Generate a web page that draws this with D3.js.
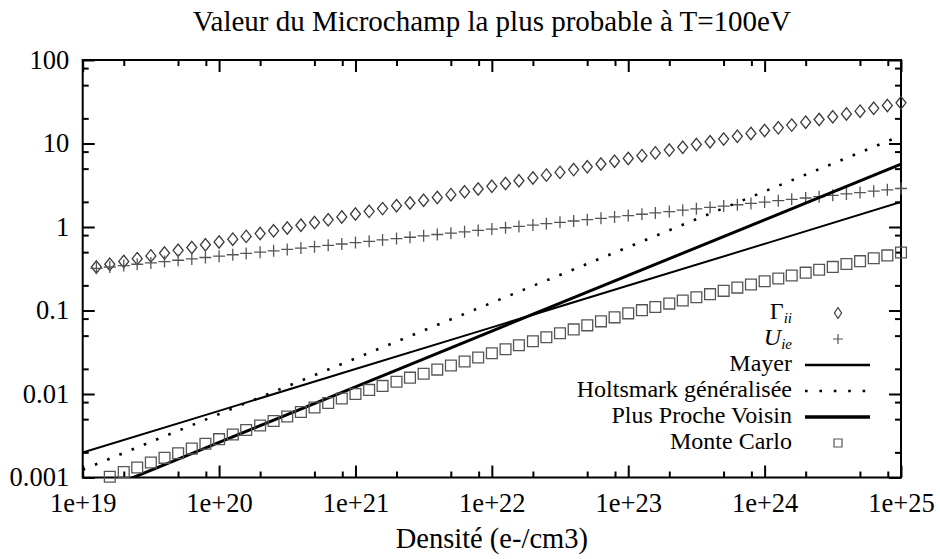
<!DOCTYPE html>
<html>
<head>
<meta charset="utf-8">
<script src="https://cdn.jsdelivr.net/npm/d3@7"></script>
<style>
  body { margin: 0; background: #fff; }
  svg text { font-family: 'Liberation Serif', serif; fill: #000; }
</style>
</head>
<body>
<div id="graph"></div>
<script>
// densités (e-/cm3) des points marqués
const densites = [
  1.26e19, 1.58e19, 2.00e19, 2.51e19, 3.16e19, 3.98e19, 5.01e19, 6.31e19, 7.94e19,
  1e20, 1.26e20, 1.58e20, 2.00e20, 2.51e20, 3.16e20, 3.98e20, 5.01e20, 6.31e20, 7.94e20,
  1e21, 1.26e21, 1.58e21, 2.00e21, 2.51e21, 3.16e21, 3.98e21, 5.01e21, 6.31e21, 7.94e21,
  1e22, 1.26e22, 1.58e22, 2.00e22, 2.51e22, 3.16e22, 3.98e22, 5.01e22, 6.31e22, 7.94e22,
  1e23, 1.26e23, 1.58e23, 2.00e23, 2.51e23, 3.16e23, 3.98e23, 5.01e23, 6.31e23, 7.94e23,
  1e24, 1.26e24, 1.58e24, 2.00e24, 2.51e24, 3.16e24, 3.98e24, 5.01e24, 6.31e24, 7.94e24,
  1e25
]
const gammaII = [
  0.332, 0.358, 0.387, 0.418, 0.451, 0.487, 0.526, 0.568, 0.613,
  0.662, 0.715, 0.772, 0.834, 0.900, 0.972, 1.05, 1.13, 1.22, 1.32,
  1.43, 1.54, 1.66, 1.80, 1.94, 2.09, 2.26, 2.44, 2.64, 2.85,
  3.07, 3.32, 3.58, 3.87, 4.18, 4.51, 4.87, 5.26, 5.68, 6.13,
  6.62, 7.15, 7.72, 8.34, 9.00, 9.72, 10.5, 11.3, 12.2, 13.2,
  14.3, 15.4, 16.6, 18.0, 19.4, 20.9, 22.6, 24.4, 26.4, 28.5,
  30.7
]
const uIE = [
  0.320, 0.332, 0.345, 0.358, 0.371, 0.385, 0.400, 0.415, 0.431,
  0.447, 0.465, 0.482, 0.500, 0.519, 0.539, 0.560, 0.581, 0.603, 0.626,
  0.650, 0.674, 0.700, 0.727, 0.754, 0.783, 0.813, 0.844, 0.876, 0.909,
  0.944, 0.979, 1.017, 1.055, 1.095, 1.137, 1.180, 1.225, 1.272, 1.320,
  1.370, 1.422, 1.476, 1.532, 1.591, 1.651, 1.714, 1.779, 1.847, 1.917,
  1.990, 2.065, 2.144, 2.225, 2.310, 2.398, 2.489, 2.584, 2.682, 2.784,
  2.890
]
const densitesMC = densites.slice(1)
const monteCarlo = [
  0.00102, 0.00116, 0.00132, 0.00151, 0.00172, 0.00195, 0.00222, 0.00254,
  0.00288, 0.00327, 0.00370, 0.00419, 0.00474, 0.00537, 0.00608, 0.00689, 0.00780, 0.00883,
  0.0100, 0.0112, 0.0125, 0.0140, 0.0157, 0.0175, 0.0196, 0.0219, 0.0245, 0.0274,
  0.0307, 0.0343, 0.0383, 0.0428, 0.0478, 0.0533, 0.0594, 0.0664, 0.0741, 0.0828,
  0.0925, 0.101, 0.110, 0.121, 0.132, 0.144, 0.157, 0.172, 0.188, 0.205,
  0.224, 0.242, 0.262, 0.284, 0.308, 0.333, 0.361, 0.390, 0.423, 0.457,
  0.495
]

// courbes continues
const densitesCourbes = [1e19, 1e20, 1e21, 1e22, 1e23, 1e24, 1e25]
const mayer = [0.00199, 0.00628, 0.0199, 0.0628, 0.199, 0.628, 1.99]
const holtsmark = [0.00124, 0.00575, 0.0267, 0.124, 0.575, 2.67, 12.4]
const plusProcheVoisin = [0.000566, 0.00263, 0.0122, 0.0567, 0.263, 1.22, 5.66]

const xTicks = [1e19, 1e20, 1e21, 1e22, 1e23, 1e24, 1e25]
const xTickLabels = ['1e+19', '1e+20', '1e+21', '1e+22', '1e+23', '1e+24', '1e+25']
const yTicks = [0.001, 0.01, 0.1, 1, 10, 100]
const yTickLabels = ['0.001', '0.01', '0.1', '1', '10', '100']
const minorSteps = [2, 5, 8]

const width = 940
const height = 559
const plot = { left: 82.7, right: 901, top: 60, bottom: 477.5 }
const tickFont = 26.5

const svg = d3.select('#graph').append('svg')
  .attr('width', width)
  .attr('height', height)

const xScale = d3.scaleLog().domain([1e19, 1e25]).range([plot.left, plot.right])
const yScale = d3.scaleLog().domain([0.001, 100]).range([plot.bottom, plot.top])

const minorOf = (ticks) => ticks.slice(0, -1).flatMap((t) => minorSteps.map((m) => t * m))

svg.append('defs').append('clipPath').attr('id', 'clip')
  .append('rect')
  .attr('x', plot.left).attr('y', plot.top)
  .attr('width', plot.right - plot.left).attr('height', plot.bottom - plot.top)

const styleAxis = (g) => {
  g.select('.domain').remove()
  g.attr('font-family', null).attr('font-size', tickFont)
  g.selectAll('.tick line').attr('stroke', '#000').attr('stroke-width', 2)
  g.selectAll('.tick text').attr('fill', '#000')
}

// axes : graduations vers l'intérieur sur les quatre côtés
svg.append('g').attr('transform', `translate(0,${plot.bottom})`)
  .call(d3.axisBottom(xScale).tickValues(xTicks).tickSize(-12).tickPadding(16)
    .tickFormat((d, i) => xTickLabels[i]))
  .call(styleAxis)
svg.append('g').attr('transform', `translate(0,${plot.bottom})`)
  .call(d3.axisBottom(xScale).tickValues(minorOf(xTicks)).tickSize(-6).tickFormat(''))
  .call(styleAxis)
svg.append('g').attr('transform', `translate(0,${plot.top})`)
  .call(d3.axisTop(xScale).tickValues(xTicks).tickSize(-12).tickFormat(''))
  .call(styleAxis)
svg.append('g').attr('transform', `translate(0,${plot.top})`)
  .call(d3.axisTop(xScale).tickValues(minorOf(xTicks)).tickSize(-6).tickFormat(''))
  .call(styleAxis)
svg.append('g').attr('transform', `translate(${plot.left},0)`)
  .call(d3.axisLeft(yScale).tickValues(yTicks).tickSize(-12).tickPadding(13.5)
    .tickFormat((d, i) => yTickLabels[i]))
  .call(styleAxis)
svg.append('g').attr('transform', `translate(${plot.left},0)`)
  .call(d3.axisLeft(yScale).tickValues(minorOf(yTicks)).tickSize(-6).tickFormat(''))
  .call(styleAxis)
svg.append('g').attr('transform', `translate(${plot.right},0)`)
  .call(d3.axisRight(yScale).tickValues(yTicks).tickSize(-12).tickFormat(''))
  .call(styleAxis)
svg.append('g').attr('transform', `translate(${plot.right},0)`)
  .call(d3.axisRight(yScale).tickValues(minorOf(yTicks)).tickSize(-6).tickFormat(''))
  .call(styleAxis)

svg.append('rect')
  .attr('x', plot.left).attr('y', plot.top)
  .attr('width', plot.right - plot.left).attr('height', plot.bottom - plot.top)
  .attr('fill', 'none').attr('stroke', '#000').attr('stroke-width', 2)

// titres
svg.append('text')
  .attr('x', (plot.left + plot.right) / 2).attr('y', 31)
  .attr('text-anchor', 'middle').attr('font-size', 29)
  .text('Valeur du Microchamp la plus probable à T=100eV')
svg.append('text')
  .attr('x', (plot.left + plot.right) / 2).attr('y', 548)
  .attr('text-anchor', 'middle').attr('font-size', 28.5)
  .text('Densité (e-/cm3)')

const diamond = 'M0,-6.2L5,0L0,6.2L-5,0Z'
const plus = 'M-6,0H6M0,-6V6'
const square = 'M-5.4,-5.4H5.4V5.4H-5.4Z'

const drawMarks = (xs, ys, shape, color) => {
  svg.append('g').selectAll('path').data(d3.zip(xs, ys)).join('path')
    .attr('d', shape)
    .attr('transform', (d) => `translate(${xScale(d[0])},${yScale(d[1])})`)
    .attr('fill', 'none')
    .attr('stroke', color)
    .attr('stroke-width', 1.3)
}

const line = d3.line().x((d) => xScale(d[0])).y((d) => yScale(d[1]))
const drawLine = (ys, widthPx, dash) => {
  svg.append('path')
    .datum(d3.zip(densitesCourbes, ys))
    .attr('clip-path', 'url(#clip)')
    .attr('d', line)
    .attr('fill', 'none')
    .attr('stroke', '#000')
    .attr('stroke-width', widthPx)
    .attr('stroke-dasharray', dash)
}

drawMarks(densites, gammaII, diamond, '#3a3a3a')
drawMarks(densites, uIE, plus, '#555')
drawLine(mayer, 2, null)
drawLine(holtsmark, 2.6, '2.6,10.6')
drawLine(plusProcheVoisin, 3, null)
drawMarks(densitesMC, monteCarlo, square, '#555')

// légende
const legend = [
  { label: ['Γ', 'ii'], mark: 'M0,-5.5L3.6,0L0,5.5L-3.6,0Z', color: '#3a3a3a' },
  { label: ['U', 'ie'], mark: 'M-5,0H5M0,-5V5', color: '#555' },
  { label: ['Mayer'], line: 2.4 },
  { label: ['Holtsmark généralisée'], line: 2.6, dash: '2.6,11.8' },
  { label: ['Plus Proche Voisin'], line: 3.4 },
  { label: ['Monte Carlo'], mark: 'M-4,-4H4V4H-4Z', color: '#555' }
]
const legendTextX = 792
const legendFont = 24
const legendY = d3.scalePoint().domain(d3.range(legend.length)).range([313, 443])

legend.forEach((item, i) => {
  const y = legendY(i)
  const t = svg.append('text')
    .attr('x', legendTextX).attr('y', y + 6)
    .attr('text-anchor', 'end').attr('font-size', legendFont)
  if (item.label.length === 2) {
    t.append('tspan').attr('font-style', i === 1 ? 'italic' : null).text(item.label[0])
    t.append('tspan').attr('font-style', 'italic').attr('font-size', 15).attr('dy', 3.5).text(item.label[1])
  } else {
    t.text(item.label[0])
  }
  if (item.mark) {
    svg.append('path')
      .attr('d', item.mark)
      .attr('transform', `translate(838,${y})`)
      .attr('fill', 'none').attr('stroke', item.color).attr('stroke-width', 1.2)
  } else {
    svg.append('line')
      .attr('x1', 805).attr('x2', 870).attr('y1', y).attr('y2', y)
      .attr('stroke', '#000').attr('stroke-width', item.line)
      .attr('stroke-dasharray', item.dash || null)
  }
})
</script>
</body>
</html>
